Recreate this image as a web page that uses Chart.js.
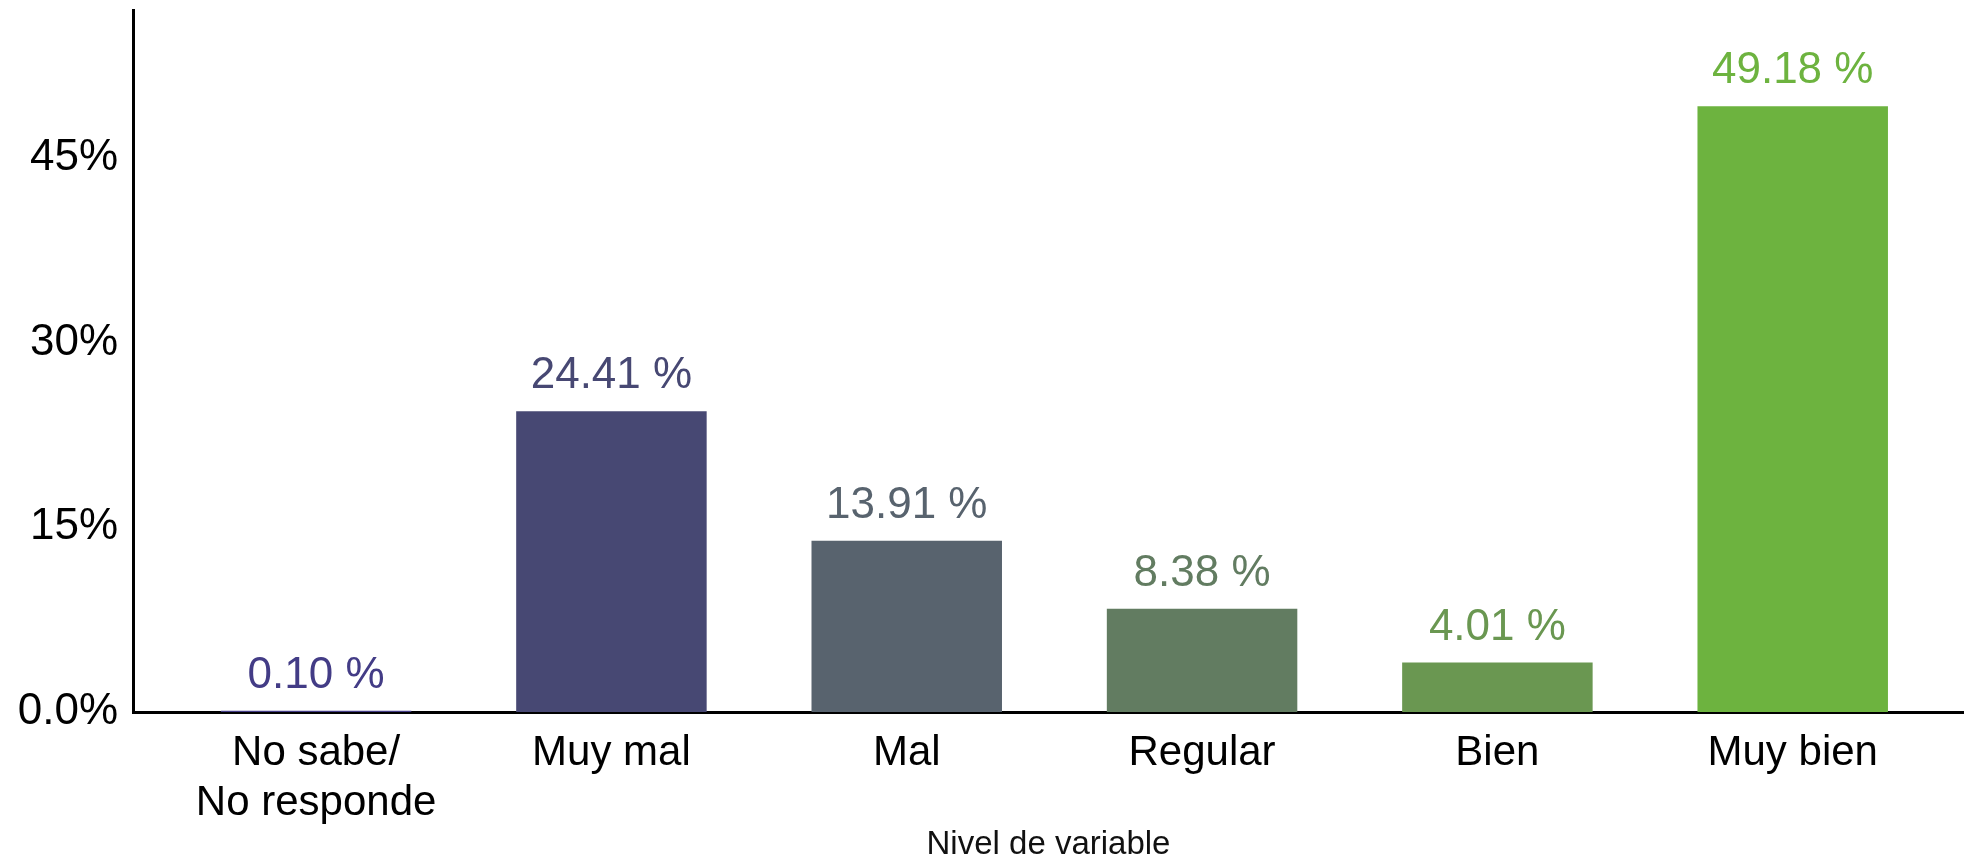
<!DOCTYPE html>
<html>
<head>
<meta charset="utf-8">
<script src="https://cdn.jsdelivr.net/npm/chart.js@4.4.1/dist/chart.umd.min.js"></script>
<style>
    html, body { margin: 0; padding: 0; background: #fff; }
    #wrap { width: 1964px; height: 858px; position: relative; }
</style>
</head>
<body>
<div id="wrap"><canvas id="chart"></canvas></div>
<script>
// Data
const categories = [['No sabe/', 'No responde'], 'Muy mal', 'Mal', 'Regular', 'Bien', 'Muy bien'];
const percentages = [0.10, 24.41, 13.91, 8.38, 4.01, 49.18];
const barColors = ['#433c86', '#474873', '#58636e', '#627c61', '#6a9751', '#6db33f'];
const yTicks = [0, 15, 30, 45];
const yTickLabels = ['0.0%', '15%', '30%', '45%'];

const points = percentages.map((v, i) => ({ x: i + 1, y: v }));
const FONT = '"Liberation Sans", Arial, sans-serif';

// Value labels above each bar
const valueLabels = {
    id: 'valueLabels',
    afterDatasetsDraw(chart) {
        const ctx = chart.ctx;
        const meta = chart.getDatasetMeta(0);
        ctx.save();
        ctx.font = '44px ' + FONT;
        ctx.textAlign = 'center';
        ctx.textBaseline = 'alphabetic';
        meta.data.forEach((bar, i) => {
            ctx.fillStyle = barColors[i];
            ctx.fillText(percentages[i].toFixed(2) + ' %', bar.x, bar.y - 23);
        });
        ctx.restore();
    }
};

new Chart(document.getElementById('chart'), {
    type: 'bar',
    data: {
        datasets: [{
            data: points,
            backgroundColor: barColors,
            borderWidth: 0,
            categoryPercentage: 1,
            barPercentage: 0.645
        }]
    },
    options: {
        responsive: true,
        maintainAspectRatio: false,
        animation: false,
        layout: { padding: { top: 10, right: 0, bottom: 0, left: 0 } },
        plugins: {
            legend: { display: false },
            tooltip: { enabled: false }
        },
        scales: {
            x: {
                type: 'linear',
                offset: false,
                min: 0.38,
                max: 6.58,
                grid: { display: false, drawTicks: false, offset: false },
                border: { display: true, color: '#000', width: 3 },
                afterBuildTicks: (scale) => {
                    scale.ticks = categories.map((c, i) => ({ value: i + 1 }));
                },
                afterFit: (scale) => {
                    scale.height = 146;
                    scale.paddingLeft = 0;
                    scale.paddingRight = 0;
                },
                ticks: {
                    autoSkip: false,
                    maxRotation: 0,
                    padding: 16,
                    color: '#000',
                    font: { family: FONT, size: 42 },
                    callback: (value) => categories[Math.round(value) - 1]
                },
                title: {
                    display: true,
                    text: 'Nivel de variable',
                    color: '#111',
                    padding: { top: 0, bottom: -3 },
                    font: { family: FONT, size: 33, lineHeight: 1.0 }
                }
            },
            y: {
                min: 0,
                max: 57,
                grid: { display: false, drawTicks: false },
                border: { display: true, color: '#000', width: 3 },
                afterBuildTicks: (scale) => {
                    scale.ticks = yTicks.map(v => ({ value: v }));
                },
                afterFit: (scale) => {
                    scale.width = 133;
                    scale.paddingTop = 0;
                    scale.paddingBottom = 0;
                },
                ticks: {
                    padding: 15,
                    color: '#000',
                    font: { family: FONT, size: 44 },
                    callback: (value) => yTickLabels[yTicks.indexOf(value)]
                }
            }
        }
    },
    plugins: [valueLabels]
});
</script>
</body>
</html>
